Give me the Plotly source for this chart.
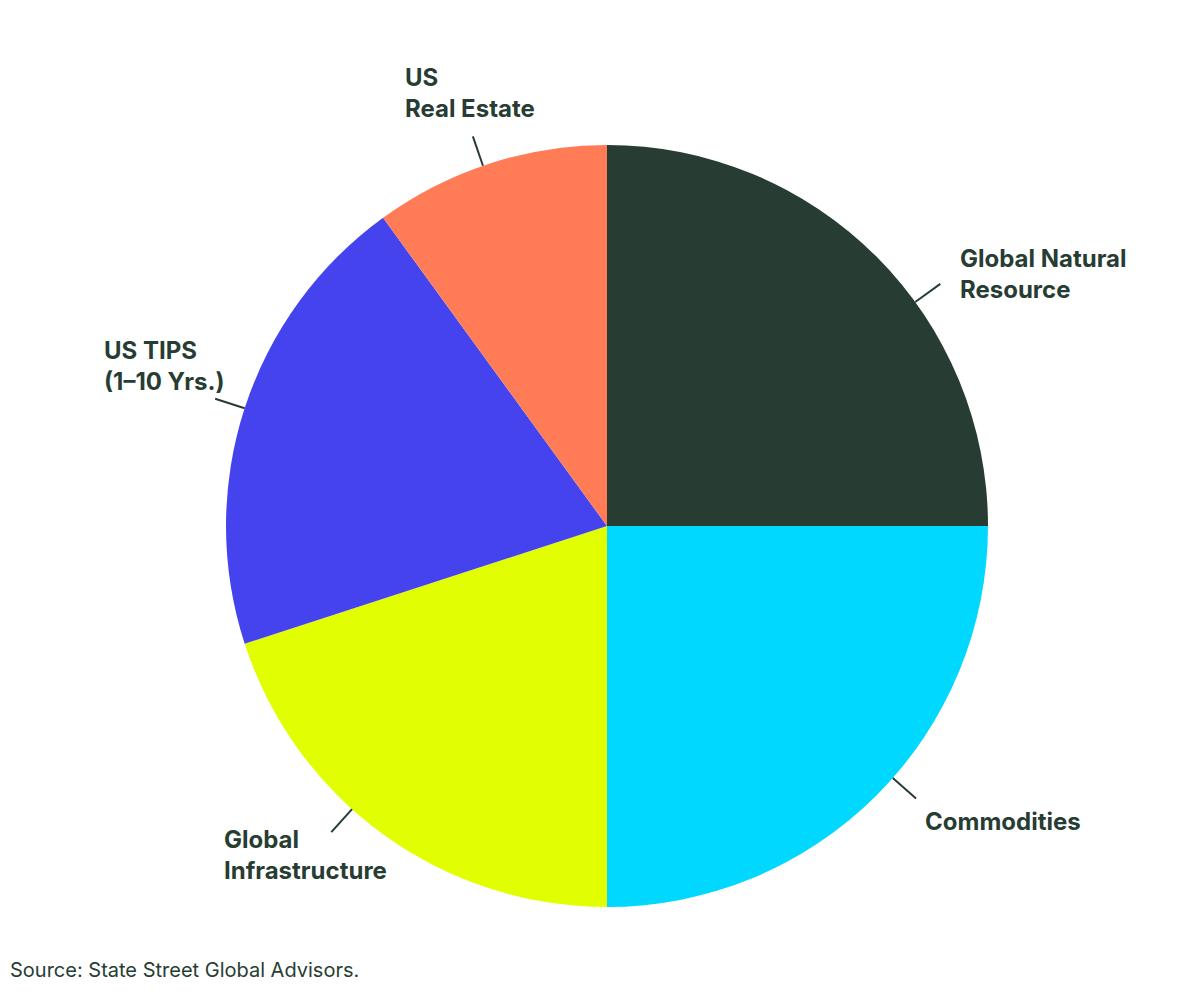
import math
import plotly.graph_objects as go

# ---- data ----
categories = ["Global Natural<br>Resource", "Commodities", "Global<br>Infrastructure",
              "US TIPS<br>(1–10 Yrs.)", "US<br>Real Estate"]
values = [25, 25, 20, 20, 10]
colors = ["#273d33", "#00d8ff", "#e1ff00", "#4543ee", "#ff7c57"]
source_text = "Source: State Street Global Advisors."

# ---- layout / style ----
OFF = 8                      # default page body margin
W, H = 1200 - 2 * OFF, 992 - 2 * OFF
CX, CY, R = 607, 526, 381    # page pixel coordinates
TEXT_COLOR = "#273d33"
FONT = "Inter"
# leader-line angular offsets (deg) relative to slice mid-angle
angle_offset = [9, -3.6, 6, 0, -1]
# label anchor (left x, middle y) in page px
label_pos = [(958, 274), (923, 821), (222, 855), (102, 366), (403, 93)]


def px_to_paper(x, y):
    return (x - OFF) / W, 1 - (y - OFF) / H


d0 = px_to_paper(CX - R, CY + R)
d1 = px_to_paper(CX + R, CY - R)

fig = go.Figure(go.Pie(
    labels=[c.replace("<br>", " ") for c in categories],
    values=values,
    marker=dict(colors=colors, line=dict(width=0)),
    sort=False,
    direction="clockwise",
    rotation=0,
    textinfo="none",
    hoverinfo="label+percent",
    showlegend=False,
    domain=dict(x=[d0[0], d1[0]], y=[d0[1], d1[1]]),
))

shapes = []
annotations = []
total = sum(values)
cum = 0
for i, v in enumerate(values):
    mid = (cum + v / 2) / total * 360 + angle_offset[i]
    cum += v
    a = math.radians(mid)
    x0, y0 = CX + R * math.sin(a), CY - R * math.cos(a)
    x1, y1 = CX + (R + 31) * math.sin(a), CY - (R + 31) * math.cos(a)
    p0 = px_to_paper(x0, y0)
    p1 = px_to_paper(x1, y1)
    shapes.append(dict(type="line", xref="paper", yref="paper",
                       x0=p0[0], y0=p0[1], x1=p1[0], y1=p1[1],
                       line=dict(color=TEXT_COLOR, width=2)))
    lx, ly = px_to_paper(*label_pos[i])
    annotations.append(dict(x=lx, y=ly, xref="paper", yref="paper",
                            text="<b>" + categories[i] + "</b>", showarrow=False,
                            xanchor="left", yanchor="middle", align="left",
                            font=dict(family=FONT, size=24, color=TEXT_COLOR)))

sx, sy = px_to_paper(OFF, 984)
annotations.append(dict(x=sx, y=sy, xref="paper", yref="paper",
                        text=source_text, showarrow=False, xanchor="left", yanchor="bottom",
                        font=dict(family=FONT, size=20, color=TEXT_COLOR)))

fig.update_layout(width=W, height=H, margin=dict(l=0, r=0, t=0, b=0),
                  paper_bgcolor="white", plot_bgcolor="white",
                  shapes=shapes, annotations=annotations)

fig.write_html("out.html")
